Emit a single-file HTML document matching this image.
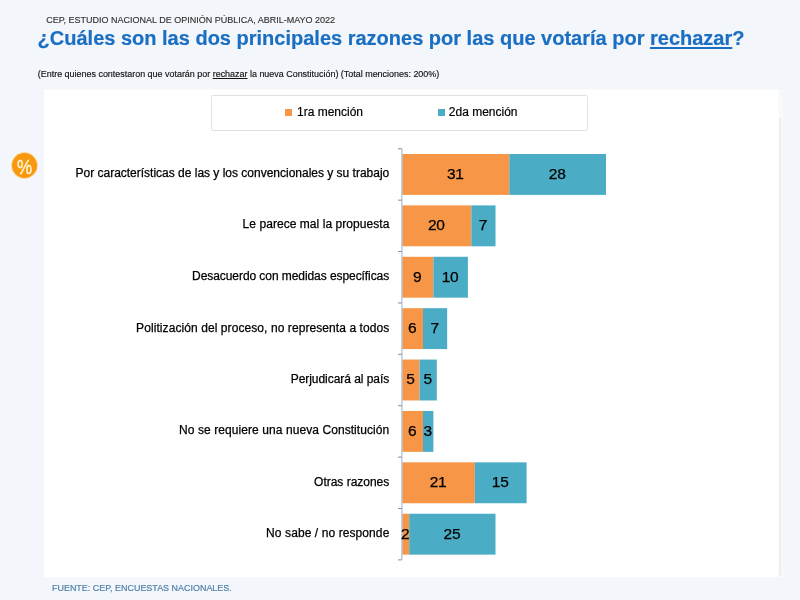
<!DOCTYPE html>
<html lang="es">
<head>
<meta charset="utf-8">
<title>CEP, Estudio Nacional de Opinión Pública</title>
<style>
html,body{margin:0;padding:0;}
body{width:800px;height:600px;overflow:hidden;position:relative;background:#f3f6fa;font-family:"Liberation Sans",sans-serif;color:#111;}
.abs{position:absolute;white-space:nowrap;line-height:1;}
.hdr{left:46.2px;top:16.1px;font-size:9px;color:#333;-webkit-text-stroke:0.15px #333;}
.title{left:37.6px;top:27.5px;font-size:20px;font-weight:bold;color:#1b6fc2;-webkit-text-stroke:0.2px #1b6fc2;}
.title u{text-decoration:underline;text-decoration-thickness:1.6px;text-underline-offset:1.5px;}
.sub{left:37.8px;top:70.2px;font-size:8.95px;color:#111;-webkit-text-stroke:0.15px #111;}
.foot{left:52px;top:583.7px;font-size:8.96px;color:#4b7ea8;-webkit-text-stroke:0.15px #4b7ea8;}
.legend{position:absolute;left:210.5px;top:95px;width:375px;height:34px;border:1px solid #e1e1e1;border-radius:1.5px;background:#fff;box-sizing:content-box;}
.sw{position:absolute;width:7px;height:7px;top:109.3px;}
.lg{font-size:12px;top:106px;color:#000;-webkit-text-stroke:0.2px #000;}
.pct{position:absolute;left:11.8px;top:152.6px;width:25.6px;height:25.6px;border-radius:50%;background:#f7980f;box-shadow:0 0 0 0.9px #fbdca6;}
.pct span{position:absolute;left:0;top:2px;width:100%;height:100%;line-height:25.6px;text-align:center;font-size:17px;color:#fff6d5;transform:scaleY(1.17);-webkit-text-stroke:0.3px #fff6d5;}
.chart{position:absolute;left:0;top:0;width:800px;height:600px;}
.lab{font-size:12px;color:#000;-webkit-text-stroke:0.25px #000;}
.o{background:#f79646;fill:#f79646;}
.b{background:#4bacc6;fill:#4bacc6;}
.dl{font-size:15.5px;letter-spacing:-0.2px;color:#000;-webkit-text-stroke:0.25px #000;transform:translateX(-50%);}
</style>
</head>
<body>
<div class="abs hdr">CEP, ESTUDIO NACIONAL DE OPINIÓN PÚBLICA, ABRIL-MAYO 2022</div>
<div class="abs title">¿Cuáles son las dos principales razones por las que votaría por <u>rechazar</u>?</div>
<div class="abs sub">(Entre quienes contestaron que votarán por <u>rechazar</u> la nueva Constitución) (Total menciones: 200%)</div>
<svg class="chart" width="800" height="600" viewBox="0 0 800 600">
<rect x="777" y="89.5" width="6.2" height="487.5" fill="#f8f9fb"/>
<rect x="44" y="89.5" width="734.3" height="487.5" fill="#fff"/>
<rect x="779.5" y="118.5" width="1.6" height="457" fill="#eaebed"/>
<rect class="o" x="402.3" y="154.00" width="107.03" height="40.9"/><rect class="b" x="509.33" y="154.00" width="96.67" height="40.9"/>
<rect class="o" x="402.3" y="205.39" width="69.05" height="40.9"/><rect class="b" x="471.35" y="205.39" width="24.17" height="40.9"/>
<rect class="o" x="402.3" y="256.78" width="31.07" height="40.9"/><rect class="b" x="433.37" y="256.78" width="34.53" height="40.9"/>
<rect class="o" x="402.3" y="308.17" width="20.71" height="40.9"/><rect class="b" x="423.01" y="308.17" width="24.17" height="40.9"/>
<rect class="o" x="402.3" y="359.56" width="17.26" height="40.9"/><rect class="b" x="419.56" y="359.56" width="17.26" height="40.9"/>
<rect class="o" x="402.3" y="410.95" width="20.71" height="40.9"/><rect class="b" x="423.01" y="410.95" width="10.36" height="40.9"/>
<rect class="o" x="402.3" y="462.34" width="72.50" height="40.9"/><rect class="b" x="474.80" y="462.34" width="51.79" height="40.9"/>
<rect class="o" x="402.3" y="513.73" width="6.90" height="40.9"/><rect class="b" x="409.20" y="513.73" width="86.31" height="40.9"/>
<rect x="401.2" y="148.75" width="1.4" height="411.12" fill="#9cb3cc" fill-opacity="0.75"/>
<rect x="398" y="148.25" width="3.8" height="1" fill="#8c8c8c"/>
<rect x="398" y="199.64" width="3.8" height="1" fill="#8c8c8c"/>
<rect x="398" y="251.03" width="3.8" height="1" fill="#8c8c8c"/>
<rect x="398" y="302.43" width="3.8" height="1" fill="#8c8c8c"/>
<rect x="398" y="353.81" width="3.8" height="1" fill="#8c8c8c"/>
<rect x="398" y="405.20" width="3.8" height="1" fill="#8c8c8c"/>
<rect x="398" y="456.60" width="3.8" height="1" fill="#8c8c8c"/>
<rect x="398" y="507.99" width="3.8" height="1" fill="#8c8c8c"/>
<rect x="398" y="559.38" width="3.8" height="1" fill="#8c8c8c"/>
</svg>
<div class="legend"></div>
<div class="sw o" style="left:285px"></div>
<div class="abs lg" style="left:297px">1ra mención</div>
<div class="sw b" style="left:437.5px"></div>
<div class="abs lg" style="left:448.8px">2da mención</div>
<div class="pct"><span>%</span></div>
<div class="abs lab" style="left:75.5px;top:167px;letter-spacing:-0.007px">Por características de las y los convencionales y su trabajo</div>
<div class="abs dl" style="left:455.3px;top:165.83px">31</div><div class="abs dl" style="left:557.2px;top:165.83px">28</div>
<div class="abs lab" style="left:242.6px;top:218px;letter-spacing:0.052px">Le parece mal la propuesta</div>
<div class="abs dl" style="left:436.3px;top:217.22px">20</div><div class="abs dl" style="left:482.9px;top:217.22px">7</div>
<div class="abs lab" style="left:192.1px;top:270px;letter-spacing:-0.070px">Desacuerdo con medidas específicas</div>
<div class="abs dl" style="left:417.3px;top:268.61px">9</div><div class="abs dl" style="left:450.1px;top:268.61px">10</div>
<div class="abs lab" style="left:136.1px;top:322px;letter-spacing:0.080px">Politización del proceso, no representa a todos</div>
<div class="abs dl" style="left:412.2px;top:320.00px">6</div><div class="abs dl" style="left:434.6px;top:320.00px">7</div>
<div class="abs lab" style="left:290.7px;top:373px;letter-spacing:-0.044px">Perjudicará al país</div>
<div class="abs dl" style="left:410.4px;top:371.39px">5</div><div class="abs dl" style="left:427.7px;top:371.39px">5</div>
<div class="abs lab" style="left:179.1px;top:424px;letter-spacing:0.075px">No se requiere una nueva Constitución</div>
<div class="abs dl" style="left:412.2px;top:422.78px">6</div><div class="abs dl" style="left:427.7px;top:422.78px">3</div>
<div class="abs lab" style="left:314.1px;top:476px;letter-spacing:-0.017px">Otras razones</div>
<div class="abs dl" style="left:438.1px;top:474.17px">21</div><div class="abs dl" style="left:500.2px;top:474.17px">15</div>
<div class="abs lab" style="left:266.1px;top:527px;letter-spacing:0.090px">No sabe / no responde</div>
<div class="abs dl" style="left:405.3px;top:525.56px">2</div><div class="abs dl" style="left:451.9px;top:525.56px">25</div>
<div class="abs foot">FUENTE: CEP, ENCUESTAS NACIONALES.</div>
</body>
</html>
